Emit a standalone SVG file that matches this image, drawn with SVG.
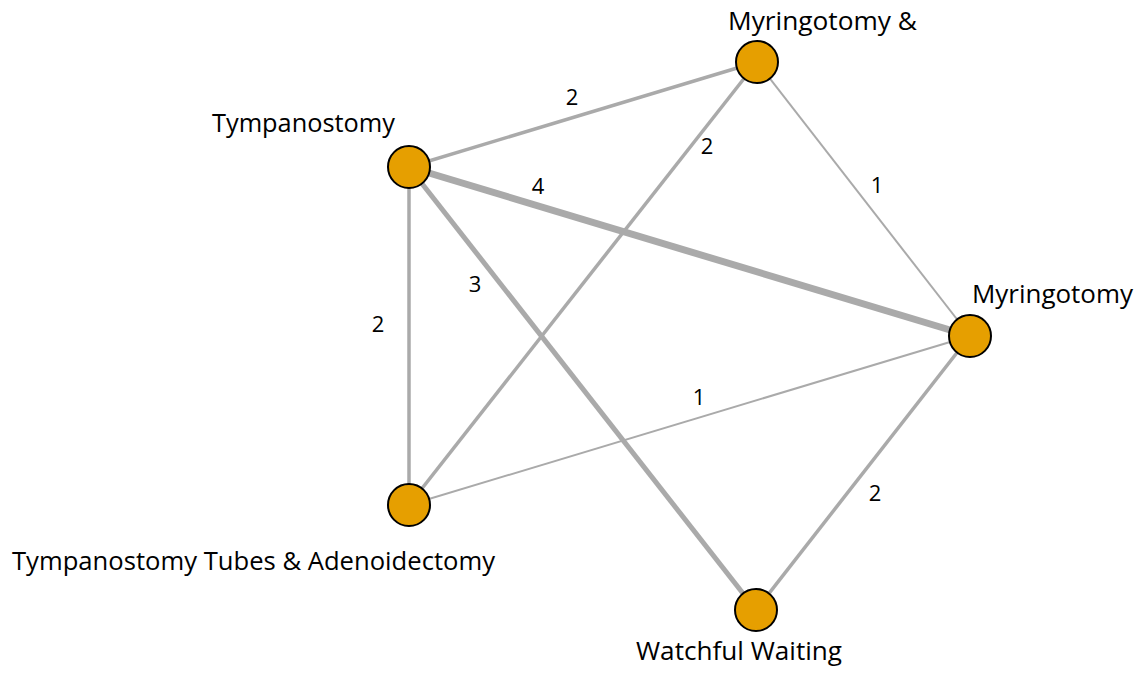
<svg xmlns="http://www.w3.org/2000/svg" width="1142" height="677" viewBox="0 0 1142 677">
<style>
.e{stroke:#aaaaaa;fill:none;stroke-linecap:butt}
.w1{stroke-width:2}
.w2{stroke-width:3.5}
.w3{stroke-width:5}
.w4{stroke-width:7}
.n{fill:#E69F00;stroke:#000;stroke-width:2}
.t{font-family:"Open Sans","Liberation Sans",sans-serif;font-size:25px;fill:#000}
.l{font-family:"Open Sans","Liberation Sans",sans-serif;font-size:22px;fill:#000;text-anchor:middle}
</style>
<rect width="1142" height="677" fill="#fff"/>
<g id="connectors">
<line class="e w2" x1="409" y1="167" x2="757" y2="62"/>
<line class="e w2" x1="409" y1="505" x2="757" y2="62"/>
<line class="e w1" x1="757" y1="62" x2="970" y2="336"/>
<line class="e w4" x1="409" y1="167" x2="970" y2="336"/>
<line class="e w2" x1="409" y1="167" x2="409" y2="505"/>
<line class="e w3" x1="409" y1="167" x2="756" y2="610"/>
<line class="e w1" x1="409" y1="505" x2="970" y2="336"/>
<line class="e w2" x1="970" y1="336" x2="756" y2="610"/>
<text class="l" x="572" y="105">2</text>
<text class="l" x="707" y="154">2</text>
<text class="l" x="877" y="193">1</text>
<text class="l" x="538" y="194">4</text>
<text class="l" x="475" y="292">3</text>
<text class="l" x="378" y="332">2</text>
<text class="l" x="699" y="405">1</text>
<text class="l" x="875" y="501">2</text>
</g>
<g id="node-myr-tubes">
<circle class="n" cx="757" cy="62" r="21"/>
<text class="t" x="728" y="30" textLength="189" lengthAdjust="spacingAndGlyphs">Myringotomy &amp;</text>
</g>
<g id="node-tympanostomy">
<circle class="n" cx="409" cy="167" r="21"/>
<text class="t" x="212" y="132" textLength="183" lengthAdjust="spacingAndGlyphs">Tympanostomy</text>
</g>
<g id="node-myringotomy">
<circle class="n" cx="970" cy="336" r="21"/>
<text class="t" x="972" y="303" textLength="161" lengthAdjust="spacingAndGlyphs">Myringotomy</text>
</g>
<g id="node-tta">
<circle class="n" cx="409" cy="505" r="21"/>
<text class="t" x="12" y="570" textLength="483" lengthAdjust="spacingAndGlyphs">Tympanostomy Tubes &amp; Adenoidectomy</text>
</g>
<g id="node-watchful">
<circle class="n" cx="756" cy="610" r="21"/>
<text class="t" x="636" y="660" textLength="206" lengthAdjust="spacingAndGlyphs">Watchful Waiting</text>
</g>
</svg>
